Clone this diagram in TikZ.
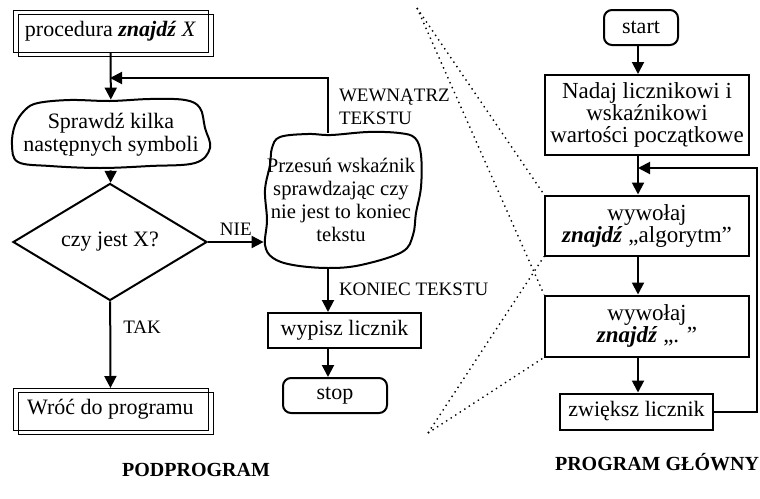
\documentclass[tikz,border=0pt]{standalone}
\usepackage{fontspec}
\setmainfont{Liberation Serif}
\usetikzlibrary{arrows.meta,positioning,shapes.geometric,shadows}

\begin{document}
\begin{tikzpicture}[x=0.5pt,y=-0.5pt,
      txt/.style={font=\fontsize{11}{11.5}\selectfont,align=center,inner sep=1pt},
      big/.style={font=\fontsize{11.5}{11}\selectfont},
      box/.style={txt,rectangle,draw,line width=1pt},
      term/.style={box,rounded corners=4pt},
      dbl/.style={txt,rectangle,draw,line width=0.5pt,minimum width=97.5pt,minimum height=21pt,
                  copy shadow={shadow xshift=2.5pt,shadow yshift=-2pt,fill=none,draw=black,line width=0.5pt}},
      test/.style={txt,diamond,draw,line width=1pt,minimum width=97pt,minimum height=37.5pt,inner sep=0pt},
      blob/.style={draw,line width=1pt,line join=round},
      lbl/.style={font=\fontsize{9.5}{11.5}\selectfont,align=left,inner sep=1pt},
      ttl/.style={font=\bfseries\fontsize{10}{12}\selectfont},
      a/.style={-{Triangle[length=6pt,width=6pt]},line width=1pt},
      dots/.style={dotted,line width=0.7pt}]
    \useasboundingbox (0,0) rectangle (760,498);
    % --- podprogram
    \node[dbl] (proc) at (110.5,31) {procedura \textbf{\textit{znajdź}} \textit{X}};
    \node[txt,minimum width=101pt,minimum height=35pt] (chk) at (111,135) {Sprawdź kilka\\następnych symboli};
    \draw[blob,shift={(chk.center)}] plot[smooth cycle,tension=0.6] coordinates {
      (-73,-32) (-41,-35) (-1,-34) (39,-36) (74,-35) (89,-27) (94,-7) (99,13)
      (84,28) (39,31) (-11,33) (-61,31) (-93,27) (-99,10) (-96,-10) (-86,-25)};
    \node[test] (czy) at (110,242) {czy jest X?};
    \node[dbl] (ret) at (110.5,409.5) {Wróć do programu};
    \node[txt,font=\fontsize{10.3}{11.4}\selectfont,minimum width=77pt,minimum height=67pt] (mov) at (341,200)
      {Przesuń wskaźnik\\sprawdzając czy\\nie jest to koniec\\tekstu};
    \draw[blob,shift={(mov.center)}] plot[smooth cycle,tension=0.6] coordinates {
      (-69,-52) (-61,-63) (-33,-66) (-10,-65) (27,-68) (58,-67) (74,-62) (80,-45)
      (80,-13) (75,13) (72,35) (61,52) (20,65) (-13,68) (-48,65) (-68,58)
      (-76,45) (-74,20) (-76,-10) (-71,-35)};
    \node[box,minimum width=76.5pt,minimum height=17.5pt] (out) at (344.5,330.5) {wypisz licznik};
    \node[term,minimum width=52pt,minimum height=17.5pt] (stop) at (335,395.5) {stop};
    \coordinate (mcol) at (328,0);
    \coordinate (j1) at (110,78);
    \draw[a] (proc) -- (chk);
    \draw[a] (chk) -- (czy);
    \draw[a] (czy) -- (czy -| mov.west) node[lbl,midway,above=2pt] {NIE};
    \draw[a] (czy) -- (ret) node[lbl,pos=0.3,right=5pt] {TAK};
    \draw[a] (mov.north -| mcol) |- (j1) node[lbl,pos=0.24,anchor=west,xshift=4pt] {WEWNĄTRZ\\TEKSTU};
    \draw[a] (mov.south -| mcol) -- (out.north -| mcol) node[lbl,midway,anchor=west,xshift=4pt] {KONIEC TEKSTU};
    \draw[a] (out.south -| mcol) -- (stop.north -| mcol);
    % --- program glowny
    \node[term,minimum width=37pt,minimum height=17.5pt] (start) at (641,27.5) {start};
    \node[box,big,minimum width=102pt,minimum height=40pt] (init) at (647,115) {Nadaj licznikowi i\\wskaźnikowi\\wartości początkowe};
    \node[box,big,minimum width=102pt,minimum height=30pt] (call1) at (647,225.5) {wywołaj\\\textbf{\textit{znajdź}} „algorytm”};
    \node[box,big,minimum width=102pt,minimum height=30.5pt] (call2) at (647,326) {wywołaj\\\textbf{\textit{znajdź}} „. ”};
    \node[box,minimum width=76.5pt,minimum height=18pt] (inc) at (636.5,411.5) {zwiększ licznik};
    \coordinate (col) at (638,0);
    \coordinate (j2) at (638,168);
    \draw[a] (start.south -| col) -- (init.north -| col);
    \draw[a] (init.south -| col) -- (call1.north -| col);
    \draw[a] (call1.south -| col) -- (call2.north -| col);
    \draw[a] (call2.south -| col) -- (inc.north -| col);
    \draw[a] (inc.east) -- ++(21.5pt,0) |- (j2);
    % zoom lines
    \coordinate (d1) at (417,8);
    \coordinate (d2) at (428,433);
    \draw[dots] (d1) -- (call1.north west);
    \draw[dots] (d1) -- (call2.north west);
    \draw[dots] (d2) -- (call1.south west);
    \draw[dots] (d2) -- (call2.south west);
    % titles
    \node[ttl] (sub) at (196,470) {PODPROGRAM};
    \node[ttl] (main) at (657,462) {PROGRAM GŁÓWNY};
  \end{tikzpicture}
\end{document}
